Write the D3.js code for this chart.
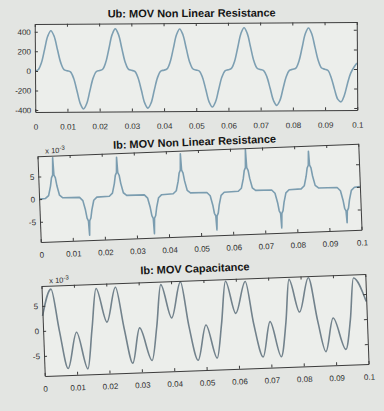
<!DOCTYPE html>
<html>
<head>
<meta charset="utf-8">
<script src="https://cdn.jsdelivr.net/npm/d3@7"></script>
<style>
  html, body { margin: 0; padding: 0; background: #e3e5e2; }
  svg { display: block; }
  text { font-family: "Liberation Sans", Arial, sans-serif; }
</style>
</head>
<body>
<svg id="fig" width="384" height="411"></svg>
<script>
// ---- shared time axis (seconds) ----
const xTicks = [0, 0.01, 0.02, 0.03, 0.04, 0.05, 0.06, 0.07, 0.08, 0.09, 0.1];
const xTickLabels = ["0", "0.01", "0.02", "0.03", "0.04", "0.05", "0.06", "0.07", "0.08", "0.09", "0.1"];

// ---- Ub across the non-linear resistance: [time ms, volts] ----
const ubSeries = [
  [0,0],[1,12],[2,83],[3,217],[4,353],[5,410],[6,353],[7,217],[8,83],[9,12],[10,0],
  [11,-12],[12,-80],[13,-208],[14,-337],[15,-392],[16,-337],[17,-208],[18,-80],[19,-12],[20,0],
  [21,13],[22,86],[23,225],[24,366],[25,425],[26,366],[27,225],[28,86],[29,13],[30,0],
  [31,-11],[32,-79],[33,-205],[34,-334],[35,-388],[36,-334],[37,-205],[38,-79],[39,-11],[40,0],
  [41,12],[42,85],[43,222],[44,361],[45,420],[46,361],[47,222],[48,85],[49,12],[50,0],
  [51,-11],[52,-77],[53,-201],[54,-327],[55,-380],[56,-327],[57,-201],[58,-77],[59,-11],[60,0],
  [61,13],[62,87],[63,227],[64,368],[65,428],[66,368],[67,227],[68,87],[69,13],[70,0],
  [71,-11],[72,-75],[73,-195],[74,-317],[75,-368],[76,-317],[77,-195],[78,-75],[79,-11],[80,0],
  [81,12],[82,86],[83,223],[84,363],[85,422],[86,363],[87,223],[88,86],[89,12],[90,0],
  [91,-14],[92,-90],[93,-210],[94,-310],[95,-335],[96,-270],[97,-150],[98,-45],[99,15],[100,60]
];
const ubTicks = [-400, -200, 0, 200, 400];

// ---- Ib through the non-linear resistance: [time ms, current x10^-3 A] ----
const ibResSeries = [
  [0,0],[2.0,0.1],[3.0,0.7],[3.7,2.8],[4.1,4.6],[4.5,5.2],[4.7,9.0],[4.9,5.2],[5.3,4.6],[5.7,2.8],[6.4,0.7],[7.4,0.1],
  [12.6,0.05],[13.6,-0.7],[14.3,-2.8],[14.7,-4.6],[15.1,-5.2],[15.3,-8.4],[15.5,-5.2],[15.9,-4.6],[16.3,-2.8],[17.0,-0.7],[18.0,-0.05],
  [21.9,0.05],[22.9,0.7],[23.6,2.8],[24.0,4.6],[24.4,5.2],[24.6,8.6],[24.8,5.2],[25.2,4.6],[25.6,2.8],[26.3,0.7],[27.3,0.1],
  [32.8,0.05],[33.8,-0.7],[34.5,-2.8],[34.9,-4.6],[35.3,-5.2],[35.5,-8.6],[35.7,-5.2],[36.1,-4.6],[36.5,-2.8],[37.2,-0.7],[38.2,-0.05],
  [41.8,0.05],[42.8,0.7],[43.5,2.8],[43.9,4.6],[44.3,5.2],[44.5,8.8],[44.7,5.2],[45.1,4.6],[45.5,2.8],[46.2,0.7],[47.2,0.1],
  [52.3,0.05],[53.3,-0.7],[54.0,-2.8],[54.4,-4.6],[54.8,-5.2],[55.0,-8.3],[55.2,-5.2],[55.6,-4.6],[56.0,-2.8],[56.7,-0.7],[57.7,-0.05],
  [62.1,0.05],[63.1,0.7],[63.8,2.8],[64.2,4.6],[64.6,5.2],[64.8,9.2],[65.0,5.2],[65.4,4.6],[65.8,2.8],[66.5,0.7],[67.5,0.1],
  [72.5,0.05],[73.5,-0.7],[74.2,-2.8],[74.6,-4.6],[75.0,-5.2],[75.2,-8.4],[75.4,-5.2],[75.8,-4.6],[76.2,-2.8],[76.9,-0.7],[77.9,-0.05],
  [81.7,0.05],[82.7,0.7],[83.4,2.8],[83.8,4.6],[84.2,5.2],[84.4,8.3],[84.6,5.2],[85.0,4.6],[85.4,2.8],[86.1,0.7],[87.1,0.1],
  [92.9,0.05],[93.9,-0.7],[94.6,-2.8],[95.0,-4.6],[95.4,-5.2],[95.6,-7.8],[95.8,-5.2],[96.2,-4.6],[96.6,-2.8],[97.3,-0.7],[98.3,-0.05],
  [100,0.05]
];
const ibResTicks = [-5, 0, 5];

// ---- Ib through the MOV capacitance: [time ms, current x10^-3 A] ----
const ibCapSeries = [
  [0,3.0],[2.9,8.3],[5.0,0],[7.3,-7.7],[10.3,-0.5],[13.4,-7.9],[15.1,0],[16.8,8.1],[19.8,1.3],
  [22.8,8.2],[25.0,0],[27.3,-7.1],[29.8,-0.1],[33.3,-6.7],[35.1,0],[36.8,8.4],[39.8,1.65],
  [42.9,8.8],[45.0,0],[47.5,-7.0],[50.3,0],[53.4,-6.7],[55.1,0],[56.8,8.6],[59.6,2.1],
  [62.9,8.4],[65.0,0],[67.6,-6.8],[70.1,0.2],[73.2,-6.9],[75.0,0],[76.4,8.5],[79.3,1.9],
  [82.4,8.7],[84.8,0],[87.0,-6.2],[89.6,0.45],[93.2,-5.9],[94.9,0],[96.3,8.3],[100,3.5]
];
const ibCapTicks = [-5, 0, 5];

// ---- panel layout ----
const panels = [
  { title: "Ub: MOV Non Linear Resistance", data: ubSeries, yDomain: [-420, 480], yTicks: ubTicks,
    yFormat: d => String(d), exponent: null,
    x0: 35, x1: 357, y0: 23, y1: 111, angle: -0.35, titleGap: 6, titleDx: -4, xPad: 12,
    curve: d3.curveCatmullRom, color: "#7d9fb2" },
  { title: "Ib: MOV Non Linear Resistance", data: ibResSeries, yDomain: [-9.5, 9.5], yTicks: ibResTicks,
    yFormat: d => String(d), exponent: "-3",
    x0: 39, x1: 360, y0: 150, y1: 236, angle: -2.2, titleGap: 4.5, titleDx: -3, xPad: 10,
    curve: d3.curveLinear, color: "#7b9db0" },
  { title: "Ib: MOV Capacitance", data: ibCapSeries, yDomain: [-9, 9], yTicks: ibCapTicks,
    yFormat: d => String(d), exponent: "-3",
    x0: 43, x1: 367, y0: 280, y1: 370, angle: -2.1, titleGap: 8, titleDx: -8, xPad: 10,
    curve: d3.curveMonotoneX, color: "#72828c" }
];

const svg = d3.select("#fig");

function drawPanel(p) {
  const cx = (p.x0 + p.x1) / 2, cy = (p.y0 + p.y1) / 2;
  const g = svg.append("g").attr("transform", `rotate(${p.angle},${cx},${cy})`);

  const x = d3.scaleLinear().domain([0, 0.1]).range([p.x0, p.x1]);
  const y = d3.scaleLinear().domain(p.yDomain).range([p.y1, p.y0]);

  // axes background
  g.append("rect")
    .attr("x", p.x0).attr("y", p.y0)
    .attr("width", p.x1 - p.x0).attr("height", p.y1 - p.y0)
    .attr("fill", "#eceeeb");

  // waveform
  g.append("path")
    .datum(p.data)
    .attr("fill", "none")
    .attr("stroke", p.color)
    .attr("stroke-width", 1.6)
    .attr("stroke-linejoin", "round")
    .attr("d", d3.line().x(d => x(d[0] / 1000)).y(d => y(d[1])).curve(p.curve));

  const styleAxis = sel => {
    sel.selectAll(".domain").attr("stroke", "#3c3c3c").attr("stroke-width", 1);
    sel.selectAll(".tick line").attr("stroke", "#3c3c3c");
    sel.selectAll("text").attr("fill", "#2e2e2e").style("font-size", "8px");
  };

  // bottom / top
  g.append("g").attr("transform", `translate(0,${p.y1})`)
    .call(d3.axisBottom(x).tickValues(xTicks).tickFormat((d, i) => xTickLabels[i])
      .tickSizeInner(-3).tickSizeOuter(0).tickPadding(p.xPad))
    .call(styleAxis);
  g.append("g").attr("transform", `translate(0,${p.y0})`)
    .call(d3.axisTop(x).tickValues(xTicks).tickFormat("").tickSizeInner(-3).tickSizeOuter(0))
    .call(styleAxis);

  // left / right
  g.append("g").attr("transform", `translate(${p.x0},0)`)
    .call(d3.axisLeft(y).tickValues(p.yTicks).tickFormat(p.yFormat)
      .tickSizeInner(-3).tickSizeOuter(0).tickPadding(4))
    .call(styleAxis);
  g.append("g").attr("transform", `translate(${p.x1},0)`)
    .call(d3.axisRight(y).tickValues(p.yTicks).tickFormat("").tickSizeInner(-3).tickSizeOuter(0))
    .call(styleAxis);

  // title
  g.append("text")
    .attr("x", cx + p.titleDx).attr("y", p.y0 - p.titleGap)
    .attr("text-anchor", "middle")
    .attr("fill", "#151515")
    .style("font-size", "11px").style("font-weight", "bold")
    .text(p.title);

  // axis exponent
  if (p.exponent) {
    const t = g.append("text")
      .attr("x", p.x0 + 8).attr("y", p.y0 - 2.5)
      .attr("fill", "#2e2e2e").style("font-size", "7.5px");
    t.append("tspan").text("x 10");
    t.append("tspan").attr("dy", -3).style("font-size", "6px").text(p.exponent);
  }
}

panels.forEach(drawPanel);
</script>
</body>
</html>
